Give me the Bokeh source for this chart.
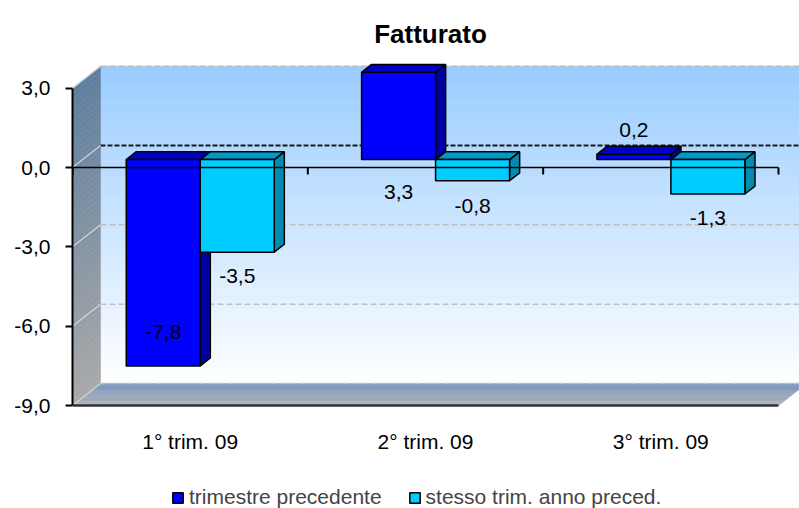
from bokeh.plotting import figure
from bokeh.models import FixedTicker, Legend, LegendItem
from bokeh.embed import file_html
from bokeh.resources import INLINE
from bokeh.core.properties import value

# ---------------- data ----------------
title_text = "Fatturato"
categories = ["1° trim. 09", "2° trim. 09", "3° trim. 09"]
series_names = ["trimestre precedente", "stesso trim. anno preced."]
trim_prec = [-7.8, 3.3, 0.2]
stesso_trim = [-3.5, -0.8, -1.3]
y_ticks = [-9, -6, -3, 0, 3]
y_tick_labels = ["-9,0", "-6,0", "-3,0", "0,0", "3,0"]

# ---------------- styling / geometry ----------------
FONT = "Liberation Sans"
PXX = 235.33          # px per category unit
PXY = 26.45           # px per value unit
DX = 28 / PXX         # full depth offset (x)
DY = 22 / PXY         # full depth offset (y)
F0, F1 = 0.36, 0.72   # bar depth position (front/back fraction)
BW = 74 / PXX         # bar width
YMIN, YMAX = y_ticks[0], y_ticks[-1]
NCAT = len(categories)

# label shifts (data units) relative to bar end, as Excel placed them
shift_prec = [1.29, -4.51, 0.92]
shift_stesso = [-0.89, -0.94, -0.91]

W, H = 799, 508
FL = 72                  # frame left in px
Y0PX = 167               # px position of value 0
TITLE_X_PX, TITLE_BASE_PX = 430, 33
p = figure(width=W, height=H, output_backend="svg", toolbar_location=None,
           x_range=(0, (W - FL) / PXX), y_range=(-(H - Y0PX) / PXY, Y0PX / PXY),
           min_border_left=FL, min_border_right=0, min_border_top=0, min_border_bottom=0,
           background_fill_color="white", border_fill_color="white")
p.outline_line_alpha = 0
p.xgrid.visible = False
p.ygrid.visible = False
p.xaxis.visible = False


def hex2rgb(h):
    h = h.lstrip("#")
    return tuple(int(h[i:i + 2], 16) for i in (0, 2, 4))


def mix(c1, c2, t):
    a, b = hex2rgb(c1), hex2rgb(c2)
    return "#%02x%02x%02x" % tuple(int(round(a[i] + (b[i] - a[i]) * t)) for i in range(3))


N = 60
# back wall gradient
bw_top, bw_bot = YMAX + DY, YMIN + DY
xs_l, xs_r, ys_b, ys_t, cols = [], [], [], [], []
for k in range(N):
    t0 = bw_top - (bw_top - bw_bot) * k / N
    t1 = bw_top - (bw_top - bw_bot) * (k + 1) / N
    xs_l.append(DX); xs_r.append(NCAT + DX)
    ys_t.append(t0); ys_b.append(t1)
    cols.append(mix("#99ccff", "#ffffff", (k + 0.5) / N))
p.quad(left=xs_l, right=xs_r, bottom=ys_b, top=ys_t, fill_color=cols, line_color=cols, line_width=0.5)

# left wall gradient
lx, ly, lc = [], [], []
for k in range(N):
    ya = YMAX - (YMAX - YMIN) * k / N
    yb = YMAX - (YMAX - YMIN) * (k + 1) / N
    lx.append([0, DX, DX, 0])
    ly.append([ya, ya + DY, yb + DY, yb])
    lc.append(mix("#5e7e9e", "#a9a9a9", (k + 0.5) / N))
p.patches(lx, ly, fill_color=lc, line_color=lc, line_width=0.5)

# floor gradient (front -> back)
fx, fy, fc = [], [], []
M = 20
for k in range(M):
    d0, d1 = k / M, (k + 1) / M
    fx.append([d0 * DX, NCAT + d0 * DX, NCAT + d1 * DX, d1 * DX])
    fy.append([YMIN + d0 * DY, YMIN + d0 * DY, YMIN + d1 * DY, YMIN + d1 * DY])
    fc.append(mix("#b4b4b4", "#7696c0", (k + 0.5) / M))
p.patches(fx, fy, fill_color=fc, line_color=fc, line_width=0.5)

# back-wall grid lines
grid_vals = [v for v in y_ticks if v != 0]
p.segment(x0=[DX] * len(grid_vals), x1=[NCAT + DX] * len(grid_vals),
          y0=[v + DY for v in grid_vals], y1=[v + DY for v in grid_vals],
          line_color="#c0c0c0", line_width=1.5, line_dash="6 3")
p.segment(x0=[DX], x1=[NCAT + DX], y0=[0 + DY], y1=[0 + DY],
          line_color="#1a1a1a", line_width=1.8, line_dash="5 2")
# left-wall diagonal grid lines
p.segment(x0=[0] * len(y_ticks), x1=[DX] * len(y_ticks),
          y0=y_ticks, y1=[v + DY for v in y_ticks],
          line_color="#d4d4d4", line_width=1.3)

# floor front edge
p.segment(x0=[0], x1=[NCAT], y0=[YMIN], y1=[YMIN], line_color="#333333", line_width=2.5)

# ---------------- bars ----------------
dbx, dby = (F1 - F0) * DX, (F1 - F0) * DY
sx, sy = F0 * DX, F0 * DY


def draw_series(vals, offset, c_front, c_top, c_side):
    L = [i + 0.5 + offset + sx for i in range(NCAT)]
    R = [l + BW for l in L]
    top = [max(v, 0) + sy for v in vals]
    bot = [min(v, 0) + sy for v in vals]
    side_x = [[r, r + dbx, r + dbx, r] for r in R]
    side_y = [[b, b + dby, t + dby, t] for b, t in zip(bot, top)]
    p.patches(side_x, side_y, fill_color=c_side, line_color="black", line_width=1.5)
    top_x = [[l, r, r + dbx, l + dbx] for l, r in zip(L, R)]
    top_y = [[t, t, t + dby, t + dby] for t in top]
    p.patches(top_x, top_y, fill_color=c_top, line_color="black", line_width=1.5)
    r = p.quad(left=L, right=R, bottom=bot, top=top, fill_color=c_front,
               line_color="black", line_width=1.5)
    return r, [(l + rr) / 2 for l, rr in zip(L, R)]


r1, cx1 = draw_series(trim_prec, -BW, "#0000ff", "#0000c8", "#0000a0")
r2, cx2 = draw_series(stesso_trim, 0, "#00ccff", "#0099c4", "#008cb0")

# front zero axis line with ticks (drawn over the bars)
p.segment(x0=[0], x1=[NCAT], y0=[0], y1=[0], line_color="black", line_width=1.6)
tick_x = list(range(NCAT + 1))
p.segment(x0=tick_x, x1=tick_x, y0=[0] * len(tick_x), y1=[-7 / PXY] * len(tick_x),
          line_color="black", line_width=2)


# data labels
def fmt(v):
    return ("%.1f" % v).replace(".", ",")


lab_x = cx1 + cx2
lab_y = [v + sy + s for v, s in zip(trim_prec, shift_prec)] + \
        [v + sy + s for v, s in zip(stesso_trim, shift_stesso)]
lab_t = [fmt(v) for v in trim_prec] + [fmt(v) for v in stesso_trim]
p.text(x=lab_x, y=lab_y, text=lab_t, text_font=value(FONT), text_font_size="21px",
       text_align="center", text_baseline="middle", text_color="black")

# category labels (under the floor)
p.text(x=[i + 0.5 for i in range(NCAT)], y=[YMIN - 36 / PXY] * NCAT, text=categories,
       text_font=value(FONT), text_font_size="21px", text_align="center",
       text_baseline="middle", text_color="black")

# chart title
p.text(x=[(TITLE_X_PX - FL) / PXX], y=[(Y0PX - TITLE_BASE_PX) / PXY], text=[title_text],
       text_font=value(FONT), text_font_size="26px", text_font_style="bold",
       text_align="center", text_baseline="alphabetic", text_color="black")

# ---------------- y axis ----------------
yax = p.yaxis[0]
yax.ticker = FixedTicker(ticks=y_ticks)
yax.major_label_overrides = {v: s for v, s in zip(y_ticks, y_tick_labels)}
yax.bounds = (YMIN, YMAX)
yax.minor_tick_line_color = None
yax.major_tick_in = 0
yax.major_tick_out = 7
yax.major_tick_line_width = 2
yax.axis_line_width = 2
yax.axis_line_color = "black"
yax.major_label_standoff = 15
yax.major_label_text_font = FONT
yax.major_label_text_font_size = "21px"
yax.major_label_text_color = "black"

# ---------------- legend ----------------
legend = Legend(items=[LegendItem(label=series_names[0], renderers=[r1]),
                       LegendItem(label=series_names[1], renderers=[r2])],
                orientation="horizontal", location=(99, -1),
                padding=0, margin=0, spacing=26, label_standoff=5,
                glyph_width=13, glyph_height=13,
                label_text_font=FONT, label_text_font_size="21px",
                background_fill_alpha=0, border_line_alpha=0)
p.add_layout(legend, "center")

open("out.html", "w").write(file_html(p, INLINE))
